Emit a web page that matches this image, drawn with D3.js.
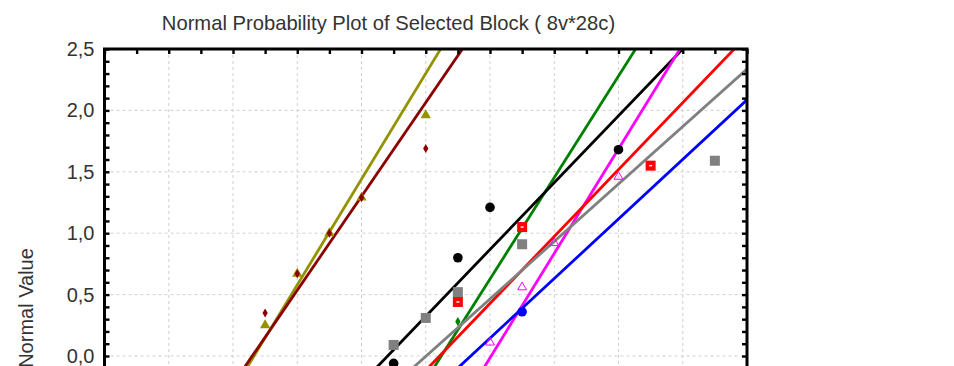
<!DOCTYPE html>
<html>
<head>
<meta charset="utf-8">
<script src="https://cdn.jsdelivr.net/npm/d3@7/dist/d3.min.js"></script>
<style>
  body { margin: 0; background: #fff; }
  svg { display: block; font-family: "Liberation Sans", Arial, sans-serif; }
</style>
</head>
<body>
<div id="chart"></div>
<script>
// variables (8v), fitted line = intercept + slope * x
var varNames   = ["Var1", "Var2", "Var3", "Var4", "Var5", "Var6", "Var7", "Var8"];
var fitIntercept = [-2.004, -1.757, -4.333, -2.399, -5.120, -2.842, -2.343, -2.767];
var fitSlope     = [0.4305, 0.3821, 0.4133, 0.2722, 0.4254, 0.2725, 0.2340, 0.2427];

// observed value / expected normal value (visible part of each series)
var obsVar1 = [5, 6, 7, 8, 10],        nrmVar1 = [0.25, 0.67, 1.00, 1.29, 1.96];
var obsVar2 = [5, 6, 7, 8, 10],        nrmVar2 = [0.35, 0.67, 1.00, 1.29, 1.69];
var obsVar3 = [11, 13],                nrmVar3 = [0.28, 1.04];
var obsVar4 = [9, 11, 12, 16],         nrmVar4 = [-0.06, 0.80, 1.21, 1.68];
var obsVar5 = [12, 13, 14, 16],        nrmVar5 = [0.11, 0.56, 0.92, 1.46];
var obsVar6 = [11, 13, 17],            nrmVar6 = [0.44, 1.05, 1.55];
var obsVar7 = [9, 10, 11, 13, 19],     nrmVar7 = [0.09, 0.31, 0.52, 0.91, 1.59];
var obsVar8 = [13],                    nrmVar8 = [0.36];

var yTickValues = [-2.5, -2.0, -1.5, -1.0, -0.5, 0.0, 0.5, 1.0, 1.5, 2.0, 2.5];
var xTickValues = [0, 2, 4, 6, 8, 10, 12, 14, 16, 18, 20];

var obsAll = [obsVar1, obsVar2, obsVar3, obsVar4, obsVar5, obsVar6, obsVar7, obsVar8];
var nrmAll = [nrmVar1, nrmVar2, nrmVar3, nrmVar4, nrmVar5, nrmVar6, nrmVar7, nrmVar8];

// styles
var colors  = ["#939300", "#8b0000", "#008000", "#000000", "#ff00ff", "#ff0000", "#808080", "#0000ff"];
var markers = ["triangle", "diamond", "diamond", "circle", "opentriangle", "redsquare", "square", "circle"];

var W = 954, H = 366;
var pLeft = 104.5, pRight = 747, pTop = 49, pBottom = 663;

var svg = d3.select("#chart").append("svg")
    .attr("width", W).attr("height", H);

var x = d3.scaleLinear().domain([0, 20]).range([pLeft, pRight]);
var y = d3.scaleLinear().domain([-2.5, 2.5]).range([pBottom, pTop]);

var locale = d3.formatLocale({decimal: ",", thousands: ".", grouping: [3], currency: ["", ""]});
var fmt = locale.format(".1f");

// grid
var grid = svg.append("g").attr("stroke", "#d0d0d0").attr("stroke-dasharray", "3,3").attr("stroke-width", 1);
grid.selectAll(".gx").data(xTickValues.slice(1, -1)).enter().append("line")
    .attr("x1", function(d){return x(d)}).attr("x2", function(d){return x(d)})
    .attr("y1", pTop).attr("y2", pBottom);
grid.selectAll(".gy").data(yTickValues.slice(1, -1)).enter().append("line")
    .attr("y1", function(d){return y(d)}).attr("y2", function(d){return y(d)})
    .attr("x1", pLeft).attr("x2", pRight);

// clip
svg.append("clipPath").attr("id", "clip").append("rect")
    .attr("x", pLeft).attr("y", pTop).attr("width", pRight - pLeft).attr("height", pBottom - pTop);

var plot = svg.append("g").attr("clip-path", "url(#clip)");

// fitted lines
varNames.forEach(function(name, i){
  var xd = x.domain();
  var pts = xd.map(function(v){ return [v, fitIntercept[i] + fitSlope[i] * v]; });
  plot.append("path")
      .attr("d", d3.line().x(function(d){return x(d[0])}).y(function(d){return y(d[1])})(pts))
      .attr("fill", "none")
      .attr("stroke", colors[i])
      .attr("stroke-width", 2.8);
});

// markers
var tri = d3.symbol().type(d3.symbolTriangle).size(46);
var dia = d3.symbol().type(d3.symbolDiamond).size(24);
var triOpen = d3.symbol().type(d3.symbolTriangle).size(34);

varNames.forEach(function(name, i){
  var data = obsAll[i].map(function(v, j){ return {x: v, y: nrmAll[i][j]}; });
  var g = plot.append("g").attr("class", "series-" + name);
  var m = g.selectAll("g").data(data).enter().append("g")
      .attr("transform", function(d){ return "translate(" + x(d.x) + "," + y(d.y) + ")"; });
  var c = colors[i];
  if (markers[i] === "circle") {
    m.append("circle").attr("r", 4.8).attr("fill", c);
  } else if (markers[i] === "triangle") {
    m.append("path").attr("d", tri).attr("fill", c);
  } else if (markers[i] === "diamond") {
    m.append("path").attr("d", dia).attr("fill", c);
  } else if (markers[i] === "opentriangle") {
    m.append("path").attr("d", triOpen).attr("fill", "none").attr("stroke", c).attr("stroke-width", 1);
  } else if (markers[i] === "square") {
    m.append("rect").attr("x", -5).attr("y", -5).attr("width", 10).attr("height", 10).attr("fill", c);
  } else if (markers[i] === "redsquare") {
    m.append("rect").attr("x", -5).attr("y", -5).attr("width", 10).attr("height", 10).attr("fill", c);
    m.append("rect").attr("x", -1.5).attr("y", -0.7).attr("width", 3).attr("height", 1.4).attr("fill", "#fff");
  }
});

// axes (ticks pointing inward)
var minorY = d3.range(-25, 26).map(function(v){ return v / 10; });
var minorX = d3.range(0, 21);

function styleAxis(g) {
  g.select(".domain").remove();
  g.selectAll(".tick line").attr("stroke", "#000").attr("stroke-width", 2.4);
  g.selectAll(".tick text").attr("fill", "#333").style("font-size", "20px")
    .style("font-family", "\"Liberation Sans\", Arial, sans-serif");
}

svg.append("g").attr("transform", "translate(" + pLeft + ",0)")
    .call(d3.axisLeft(y).tickValues(minorY).tickSize(-5).tickFormat(""))
    .call(styleAxis);
svg.append("g").attr("transform", "translate(" + pLeft + ",0)")
    .call(d3.axisLeft(y).tickValues(yTickValues).tickSize(0).tickPadding(10).tickFormat(fmt))
    .call(styleAxis);
svg.append("g").attr("transform", "translate(" + pRight + ",0)")
    .call(d3.axisRight(y).tickValues(minorY).tickSize(-5).tickFormat(""))
    .call(styleAxis);
svg.append("g").attr("transform", "translate(0," + pTop + ")")
    .call(d3.axisTop(x).tickValues(minorX).tickSize(-5).tickFormat(""))
    .call(styleAxis);
svg.append("g").attr("transform", "translate(0," + pBottom + ")")
    .call(d3.axisBottom(x).tickValues(minorX).tickSize(-5).tickFormat(""))
    .call(styleAxis);
svg.append("g").attr("transform", "translate(0," + pBottom + ")")
    .call(d3.axisBottom(x).tickValues(xTickValues).tickSize(0).tickPadding(10))
    .call(styleAxis);

// frame
svg.append("rect")
    .attr("x", pLeft).attr("y", pTop)
    .attr("width", pRight - pLeft).attr("height", pBottom - pTop)
    .attr("fill", "none").attr("stroke", "#000").attr("stroke-width", 3);

// title
svg.append("text")
    .attr("x", 388.5).attr("y", 30)
    .attr("text-anchor", "middle")
    .attr("fill", "#333")
    .style("font-size", "20.2px")
    .text("Normal Probability Plot of Selected Block ( 8v*28c)");

// y label
svg.append("text")
    .attr("transform", "translate(33,308) rotate(-90)")
    .attr("text-anchor", "middle")
    .attr("fill", "#333")
    .style("font-size", "20px")
    .text("Normal Value");
</script>
</body>
</html>
